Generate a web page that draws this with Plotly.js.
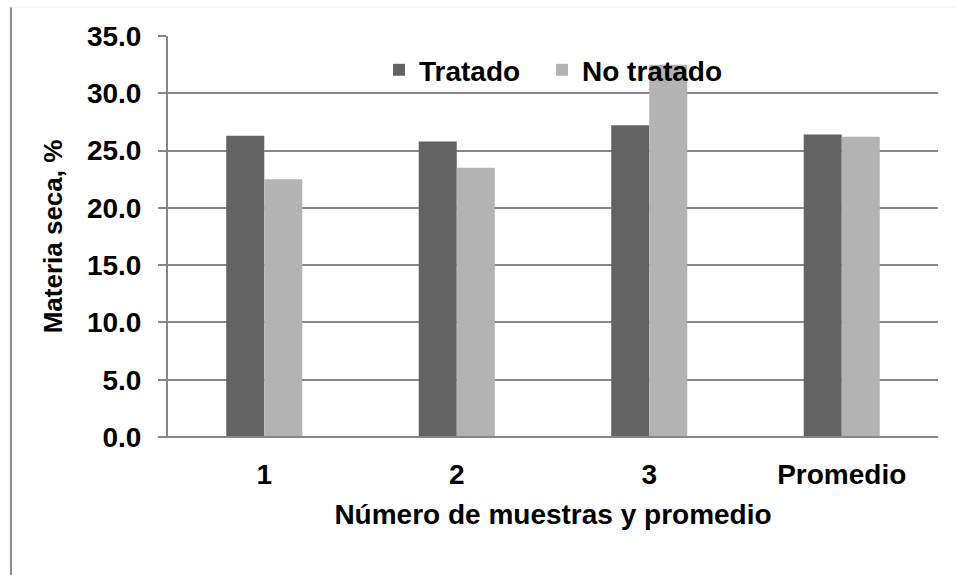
<!DOCTYPE html>
<html>
<head>
<meta charset="utf-8">
<script src="https://cdn.plot.ly/plotly-3.0.1.min.js"></script>
<style>
html,body{margin:0;padding:0;background:#fff;}
#chart{width:956px;height:575px;}
</style>
</head>
<body>
<div id="chart"></div>
<script>
var categories = ["1", "2", "3", "Promedio"];
var tratado = [26.3, 25.8, 27.2, 26.4];
var noTratado = [22.5, 23.5, 32.5, 26.2];
var seriesNames = ["Tratado", "No tratado"];
var yTitle = "Materia seca, %";
var xTitle = "Número de muestras y promedio";

var FONT = "Liberation Sans, Arial, sans-serif";
var gridCol = "#878787";

var data = [
  {type: "bar", name: seriesNames[0], x: categories, y: tratado,
   marker: {color: "#636363"}, legend: "legend"},
  {type: "bar", name: seriesNames[1], x: categories, y: noTratado,
   marker: {color: "#b3b3b3"}, legend: "legend2"}
];

var legFont = {family: FONT, size: 28, weight: "bold"};

var layout = {
  width: 956, height: 575,
  margin: {l: 168, r: 18, t: 36, b: 138},
  paper_bgcolor: "#fff", plot_bgcolor: "#fff",
  barmode: "group", bargap: 0.605, bargroupgap: 0,
  font: {family: FONT, color: "#000", size: 28, weight: "bold"},
  showlegend: true,
  legend: {orientation: "h", x: 0.274, xanchor: "left", y: 0.915, yanchor: "middle",
           bgcolor: "rgba(0,0,0,0)", font: legFont, itemwidth: 30},
  legend2: {orientation: "h", x: 0.4857, xanchor: "left", y: 0.915, yanchor: "middle",
           bgcolor: "rgba(0,0,0,0)", font: legFont, itemwidth: 30},
  xaxis: {type: "category", showline: false, ticks: "", showgrid: false, zeroline: false,
          ticklabelstandoff: 18,
          tickfont: {family: FONT, size: 28, weight: "bold"},
          title: {text: xTitle, font: {family: FONT, size: 28, weight: "bold"}, standoff: 15}},
  yaxis: {range: [0, 35], dtick: 5, tickformat: ".1f", showline: true, linecolor: gridCol, linewidth: 2,
          ticks: "outside", ticklen: 8, tickwidth: 2, tickcolor: gridCol,
          ticklabelstandoff: 11,
          showgrid: true, gridcolor: gridCol, gridwidth: 2, zeroline: false,
          tickfont: {family: FONT, size: 28, weight: "bold"},
          title: {text: yTitle, font: {family: FONT, size: 26, weight: "bold"}, standoff: 17}},
  shapes: [
    {type: "line", xref: "paper", yref: "paper", x0: -0.204, x1: -0.204, y0: 1.072, y1: -0.35,
     line: {color: "#888888", width: 2}},
    {type: "line", xref: "paper", yref: "paper", x0: -0.204, x1: 1.03, y0: 1.072, y1: 1.072,
     line: {color: "#ececec", width: 1}},
    {type: "line", xref: "paper", yref: "paper", x0: -0.012, x1: 1, y0: 0, y1: 0,
     line: {color: gridCol, width: 2}}
  ]
};

Plotly.newPlot("chart", data, layout, {displayModeBar: false, staticPlot: true});
</script>
</body>
</html>
